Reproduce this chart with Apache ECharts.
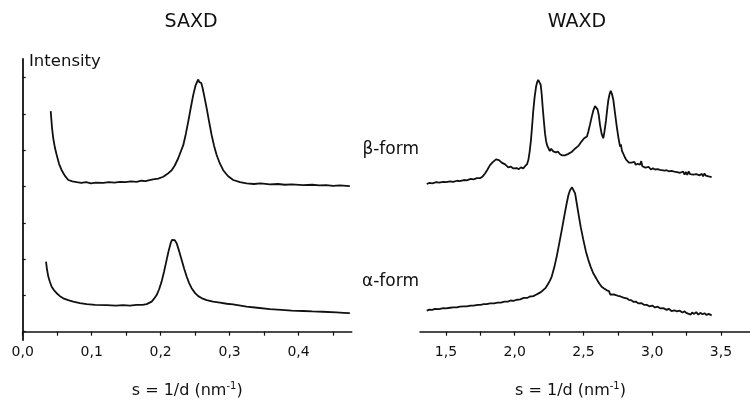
<!DOCTYPE html>
<html>
<head>
<meta charset="utf-8">
<script src="https://cdn.jsdelivr.net/npm/echarts@6/dist/echarts.min.js"></script>
<style>
  html, body { margin: 0; padding: 0; background: #fff; }
  #chart { width: 750px; height: 401px; }
</style>
</head>
<body>
<div id="chart"></div>
<script>
const saxdBeta = [
  [0.0406, 6.08], [0.0425, 5.62], [0.0443, 5.33], [0.0468, 5.06], [0.0493, 4.87], [0.0528, 4.62],
  [0.0565, 4.45], [0.061, 4.30], [0.0661, 4.18], [0.072, 4.14], [0.0783, 4.12], [0.085, 4.10],
  [0.092, 4.12], [0.099, 4.09], [0.106, 4.11], [0.1168, 4.10], [0.125, 4.12], [0.133, 4.11],
  [0.141, 4.13], [0.149, 4.12], [0.157, 4.14], [0.1652, 4.13], [0.172, 4.16], [0.178, 4.15],
  [0.184, 4.18], [0.189, 4.20], [0.1965, 4.22], [0.2038, 4.27], [0.21, 4.35], [0.216, 4.45],
  [0.2205, 4.58], [0.2255, 4.78], [0.2328, 5.14], [0.2365, 5.45], [0.24, 5.79], [0.2435, 6.15],
  [0.2472, 6.52], [0.2505, 6.78], [0.253, 6.89], [0.2545, 6.95], [0.256, 6.88], [0.257, 6.91],
  [0.259, 6.85], [0.2609, 6.71], [0.2637, 6.45], [0.2667, 6.16], [0.2703, 5.78], [0.2739, 5.42],
  [0.2775, 5.12], [0.2812, 4.87], [0.2855, 4.65], [0.2907, 4.45], [0.2975, 4.29], [0.3052, 4.18],
  [0.315, 4.12], [0.3246, 4.09], [0.335, 4.07], [0.345, 4.09], [0.3584, 4.06], [0.37, 4.07],
  [0.38, 4.05], [0.39, 4.06], [0.4067, 4.04], [0.42, 4.05], [0.43, 4.03], [0.44, 4.04],
  [0.45, 4.02], [0.46, 4.03], [0.4743, 4.01]
];

const saxdAlpha = [
  [0.0338, 1.93], [0.0352, 1.72], [0.0371, 1.52], [0.0395, 1.37], [0.042, 1.24], [0.0455, 1.14],
  [0.0493, 1.06], [0.054, 0.98], [0.0588, 0.92], [0.066, 0.87], [0.0733, 0.83], [0.083, 0.79],
  [0.0928, 0.76], [0.105, 0.74], [0.1217, 0.73], [0.135, 0.72], [0.1455, 0.73], [0.1555, 0.72],
  [0.165, 0.74], [0.1737, 0.74], [0.1797, 0.76], [0.187, 0.83], [0.1905, 0.91], [0.1942, 1.01],
  [0.1978, 1.17], [0.2014, 1.38], [0.205, 1.66], [0.2087, 1.98], [0.2115, 2.22], [0.2145, 2.44],
  [0.2165, 2.53], [0.2183, 2.57], [0.2205, 2.52], [0.2232, 2.44], [0.2268, 2.22], [0.2304, 1.98],
  [0.234, 1.74], [0.2377, 1.52], [0.2413, 1.34], [0.2449, 1.20], [0.2497, 1.07], [0.2545, 0.98],
  [0.26, 0.92], [0.2667, 0.87], [0.276, 0.83], [0.286, 0.80], [0.296, 0.77], [0.305, 0.75],
  [0.3246, 0.69], [0.34, 0.66], [0.3584, 0.62], [0.375, 0.60], [0.39, 0.58], [0.4067, 0.57],
  [0.42, 0.56], [0.435, 0.55], [0.4551, 0.53], [0.465, 0.52], [0.4743, 0.51]
];

const waxdBeta = [
  [1.360, 4.07], [1.38, 4.10], [1.40, 4.09], [1.43, 4.12], [1.45, 4.11], [1.48, 4.13], [1.50, 4.12],
  [1.53, 4.14], [1.553, 4.13], [1.58, 4.16], [1.60, 4.15], [1.63, 4.18], [1.65, 4.17], [1.68, 4.21],
  [1.70, 4.20], [1.725, 4.23], [1.747, 4.23], [1.767, 4.28], [1.784, 4.36], [1.802, 4.47],
  [1.820, 4.59], [1.842, 4.68], [1.864, 4.75], [1.875, 4.71], [1.885, 4.73], [1.905, 4.66],
  [1.93, 4.61], [1.953, 4.53], [1.97, 4.55], [1.99, 4.50], [2.014, 4.51], [2.03, 4.48],
  [2.045, 4.53], [2.062, 4.50], [2.075, 4.56], [2.090, 4.62], [2.099, 4.73], [2.108, 4.95],
  [2.118, 5.28], [2.127, 5.70], [2.135, 6.10], [2.145, 6.48], [2.155, 6.75], [2.163, 6.88],
  [2.171, 6.94], [2.180, 6.90], [2.189, 6.80], [2.196, 6.55], [2.203, 6.20], [2.212, 5.80],
  [2.220, 5.47], [2.228, 5.25], [2.237, 5.12], [2.245, 5.08], [2.255, 4.98], [2.265, 5.04],
  [2.280, 4.97], [2.29, 5.00], [2.30, 4.94], [2.315, 4.96], [2.33, 4.89], [2.345, 4.86],
  [2.353, 4.83], [2.365, 4.86], [2.375, 4.84], [2.39, 4.90], [2.40, 4.92], [2.413, 4.95],
  [2.426, 4.99], [2.44, 5.05], [2.45, 5.03], [2.463, 5.12], [2.475, 5.14], [2.485, 5.24],
  [2.495, 5.27], [2.505, 5.33], [2.515, 5.30], [2.525, 5.38], [2.535, 5.51], [2.548, 5.72],
  [2.560, 5.92], [2.572, 6.10], [2.584, 6.22], [2.595, 6.18], [2.603, 6.12], [2.612, 5.95],
  [2.620, 5.70], [2.632, 5.45], [2.644, 5.33], [2.652, 5.50], [2.664, 5.83], [2.673, 6.15],
  [2.681, 6.39], [2.690, 6.55], [2.698, 6.64], [2.707, 6.55], [2.717, 6.39], [2.730, 6.00],
  [2.742, 5.65], [2.754, 5.35], [2.766, 5.10], [2.772, 5.16], [2.780, 4.98], [2.79, 4.90],
  [2.802, 4.80], [2.81, 4.74], [2.82, 4.70], [2.83, 4.66], [2.838, 4.63], [2.85, 4.66],
  [2.86, 4.63], [2.87, 4.68], [2.88, 4.60], [2.895, 4.63], [2.911, 4.60], [2.92, 4.70],
  [2.928, 4.56], [2.94, 4.58], [2.95, 4.52], [2.960, 4.50], [2.975, 4.54], [2.99, 4.47],
  [3.005, 4.50], [3.02, 4.47], [3.04, 4.48], [3.056, 4.46], [3.07, 4.47], [3.09, 4.44],
  [3.105, 4.45], [3.12, 4.42], [3.14, 4.43], [3.16, 4.41], [3.18, 4.40], [3.19, 4.37],
  [3.202, 4.38], [3.215, 4.34], [3.225, 4.41], [3.235, 4.33], [3.245, 4.40], [3.255, 4.32],
  [3.265, 4.42], [3.275, 4.34], [3.285, 4.39], [3.299, 4.33], [3.31, 4.38], [3.32, 4.34],
  [3.33, 4.36], [3.345, 4.31], [3.36, 4.35], [3.37, 4.28], [3.38, 4.36], [3.39, 4.30],
  [3.40, 4.33], [3.41, 4.28], [3.42, 4.30], [3.432, 4.26]
];

const waxdAlpha = [
  [1.360, 0.58], [1.38, 0.61], [1.40, 0.60], [1.42, 0.63], [1.45, 0.62], [1.48, 0.65], [1.50, 0.64],
  [1.53, 0.66], [1.553, 0.67], [1.58, 0.67], [1.60, 0.69], [1.63, 0.70], [1.65, 0.70], [1.68, 0.72],
  [1.70, 0.72], [1.73, 0.74], [1.75, 0.74], [1.775, 0.76], [1.796, 0.76], [1.82, 0.78],
  [1.85, 0.78], [1.875, 0.80], [1.90, 0.80], [1.925, 0.83], [1.95, 0.83], [1.97, 0.86],
  [1.990, 0.85], [2.015, 0.88], [2.04, 0.89], [2.065, 0.93], [2.09, 0.93], [2.11, 0.97],
  [2.135, 0.98], [2.155, 1.02], [2.17, 1.05], [2.19, 1.09], [2.208, 1.15], [2.225, 1.21],
  [2.24, 1.30], [2.255, 1.40], [2.269, 1.52], [2.288, 1.78], [2.305, 2.07], [2.323, 2.42],
  [2.342, 2.80], [2.36, 3.18], [2.378, 3.54], [2.39, 3.76], [2.402, 3.90], [2.41, 3.95],
  [2.417, 3.98], [2.428, 3.93], [2.439, 3.81], [2.45, 3.56], [2.463, 3.26], [2.48, 2.88],
  [2.499, 2.53], [2.517, 2.22], [2.535, 1.98], [2.553, 1.78], [2.571, 1.61], [2.585, 1.52],
  [2.60, 1.42], [2.615, 1.33], [2.632, 1.24], [2.65, 1.19], [2.67, 1.14], [2.685, 1.12],
  [2.695, 1.02], [2.705, 1.06], [2.72, 1.03], [2.735, 1.01], [2.75, 0.99], [2.77, 0.97],
  [2.79, 0.94], [2.814, 0.92], [2.83, 0.88], [2.85, 0.86], [2.865, 0.82], [2.88, 0.83],
  [2.90, 0.78], [2.92, 0.79], [2.94, 0.74], [2.960, 0.74], [2.98, 0.70], [3.00, 0.72],
  [3.02, 0.67], [3.04, 0.69], [3.06, 0.64], [3.08, 0.65], [3.105, 0.60], [3.12, 0.63],
  [3.14, 0.57], [3.16, 0.59], [3.18, 0.56], [3.20, 0.58], [3.22, 0.53], [3.235, 0.56],
  [3.251, 0.51], [3.265, 0.55], [3.28, 0.47], [3.29, 0.53], [3.305, 0.49], [3.32, 0.54],
  [3.335, 0.47], [3.35, 0.52], [3.365, 0.48], [3.38, 0.51], [3.395, 0.46], [3.41, 0.49],
  [3.42, 0.47], [3.432, 0.45]
];

const saxdTicks = [0, 0.05, 0.1, 0.15, 0.2, 0.25, 0.3, 0.35, 0.4, 0.45];
const saxdLabels = [0, 0.1, 0.2, 0.3, 0.4];
const waxdTicks = [1.5, 1.75, 2, 2.25, 2.5, 2.75, 3, 3.25, 3.5];
const waxdLabels = [1.5, 2, 2.5, 3, 3.5];
const intensityTicks = [0, 1, 2, 3, 4, 5, 6, 7];

const font = "'DejaVu Sans', sans-serif";
const ink = "#111";
const comma = v => v.toFixed(1).replace(".", ",");

const chart = echarts.init(document.getElementById("chart"));

const xAxisBase = {
  type: "value",
  axisLine: { lineStyle: { color: ink, width: 1.6 } },
  axisTick: { inside: false, length: 4, lineStyle: { color: ink, width: 1.2 } },
  axisLabel: { color: ink, fontSize: 14, fontFamily: font, margin: 5, formatter: comma },
  splitLine: { show: false },
  name: "s = 1/d (nm{sup|-1})",
  nameLocation: "middle",
  nameGap: 41,
  nameTextStyle: {
    color: ink,
    fontSize: 16,
    fontFamily: font,
    rich: { sup: { fontSize: 10, fontFamily: font, color: ink, verticalAlign: "top", padding: [0, 0, 10, 0] } }
  }
};

const lineSeries = (data, axis) => ({
  type: "line",
  data: data,
  xAxisIndex: axis,
  yAxisIndex: axis,
  showSymbol: false,
  symbol: "none",
  lineStyle: { color: "#111", width: 1.8 },
  silent: true
});

chart.setOption({
  animation: false,
  backgroundColor: "#fff",
  grid: [
    { left: 22.7, right: 398.3, top: 59, bottom: 61, outerBoundsMode: "none" },
    { left: 420, right: 0, top: 59, bottom: 61, outerBoundsMode: "none" }
  ],
  xAxis: [
    {
      ...xAxisBase,
      gridIndex: 0,
      min: 0,
      max: 0.477,
      axisTick: { ...xAxisBase.axisTick, customValues: saxdTicks },
      axisLabel: { ...xAxisBase.axisLabel, customValues: saxdLabels }
    },
    {
      ...xAxisBase,
      gridIndex: 1,
      min: 1.311,
      max: 3.711,
      nameTextStyle: { ...xAxisBase.nameTextStyle, padding: [0, 29, 0, 0] },
      axisTick: { ...xAxisBase.axisTick, customValues: waxdTicks },
      axisLabel: { ...xAxisBase.axisLabel, customValues: waxdLabels }
    }
  ],
  yAxis: [
    {
      type: "value",
      gridIndex: 0,
      min: -0.229,
      max: 7.515,
      axisLine: { show: true, lineStyle: { color: ink, width: 1.8 } },
      axisTick: { show: true, inside: true, length: 3, customValues: intensityTicks, lineStyle: { color: ink, width: 1.2 } },
      axisLabel: { show: false },
      splitLine: { show: false }
    },
    {
      type: "value",
      gridIndex: 1,
      min: -0.229,
      max: 7.515,
      show: false
    }
  ],
  series: [
    lineSeries(saxdBeta, 0),
    lineSeries(saxdAlpha, 0),
    lineSeries(waxdBeta, 1),
    lineSeries(waxdAlpha, 1)
  ],
  graphic: [
    { type: "text", x: 191, y: 22, style: { text: "SAXD", font: "19px " + font, fill: ink, textAlign: "center", textVerticalAlign: "middle" } },
    { type: "text", x: 577, y: 22, style: { text: "WAXD", font: "19px " + font, fill: ink, textAlign: "center", textVerticalAlign: "middle" } },
    { type: "text", x: 29, y: 62, style: { text: "Intensity", font: "16.5px " + font, fill: ink, textAlign: "left", textVerticalAlign: "middle" } },
    { type: "text", x: 419, y: 150, style: { text: "β-form", font: "17px " + font, fill: ink, textAlign: "right", textVerticalAlign: "middle" } },
    { type: "text", x: 419, y: 282, style: { text: "α-form", font: "17px " + font, fill: ink, textAlign: "right", textVerticalAlign: "middle" } }
  ]
});
</script>
</body>
</html>
